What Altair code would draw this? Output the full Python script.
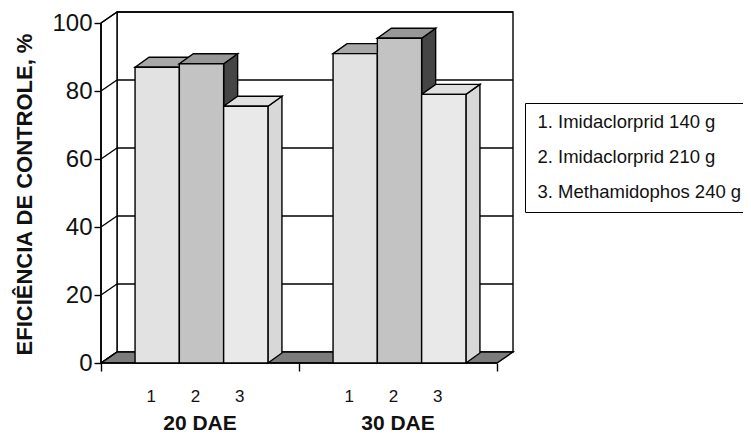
import altair as alt
import pandas as pd

# ---------------- data ----------------
groups = ["20 DAE", "30 DAE"]
series_num = ["1", "2", "3"]
treatments = ["1. Imidaclorprid 140 g", "2. Imidaclorprid 210 g", "3. Methamidophos 240 g"]
eff_20 = [87.0, 88.0, 75.5]
eff_30 = [91.0, 95.5, 79.0]
y_ticks = [0, 20, 40, 60, 80, 100]
group_ticks = [0, 1, 2]
y_title = "EFICIÊNCIA DE CONTROLE, %"

# ---------------- style / geometry constants ----------------
PX_X = 198.0      # pixels per category slot
PX_Y = 3.4        # pixels per percent
W_DX, W_DY = 16 / PX_X, 11 / PX_Y     # wall depth
B_DX, B_DY = 14 / PX_X, 10 / PX_Y     # bar depth
BAR_START, BAR_W = 0.172, 0.2237
XMAX = 2 + W_DX
YMAX = 354 / PX_Y
front_fill = ["#e2e2e2", "#c3c3c3", "#e9e9e9"]
top_fill = ["#a8a8a8", "#979797", "#e0e0e0"]
side_fill = ["#8c8c8c", "#454545", "#d8d8d8"]
FLOOR = "#7c7c7c"
FONT = "Liberation Sans"

# ---------------- derived tables ----------------
bars, sides, tops = [], [], []
for gi, vals in enumerate([eff_20, eff_30]):
    for i, v in enumerate(vals):
        x0 = gi + BAR_START + i * BAR_W
        x1 = x0 + BAR_W
        bid = f"{gi}-{i}"
        bars.append(dict(x0=x0, x1=x1, xc=(x0 + x1) / 2, v=v, treatment=treatments[i],
                         num=series_num[i], group=groups[gi]))
        sides += [dict(id=bid, px=x1, py=0, py2=v, fill=side_fill[i]),
                  dict(id=bid, px=x1 + B_DX, py=B_DY, py2=v + B_DY, fill=side_fill[i])]
        tops += [dict(id=bid, px=x0, py=v, py2=v, fill=top_fill[i]),
                 dict(id=bid, px=x0 + B_DX, py=v, py2=v + B_DY, fill=top_fill[i]),
                 dict(id=bid, px=x1, py=v, py2=v + B_DY, fill=top_fill[i]),
                 dict(id=bid, px=x1 + B_DX, py=v + B_DY, py2=v + B_DY, fill=top_fill[i])]
bars = pd.DataFrame(bars)
sides = pd.DataFrame(sides)
tops = pd.DataFrame(tops)
grp = pd.DataFrame(dict(group=groups, xc=[g + 0.5 for g in range(len(groups))]))

floor = pd.DataFrame(dict(px=[0, W_DX, 2, 2 + W_DX],
                          py=[0, 0, 0, W_DY], py2=[0, W_DY, W_DY, W_DY]))
left_wall = pd.DataFrame(dict(px=[0, W_DX], py=[0, W_DY], py2=[100, 100 + W_DY]))
back_wall = pd.DataFrame(dict(px=[W_DX], px2=[2 + W_DX], py=[W_DY], py2=[100 + W_DY]))
grid = pd.DataFrame(dict(v=y_ticks))
grid["px"], grid["px2"] = 0.0, W_DX
grid["py"] = grid["v"]
grid["py2"] = grid["v"] + W_DY
grid["bx"], grid["bx2"] = W_DX, 2 + W_DX
front_lines = pd.DataFrame(dict(px=[0, 0], px2=[0, 2], py=[0, 0], py2=[100, 0]))

xs = alt.Scale(domain=[0, XMAX], nice=False, zero=False)
ys = alt.Scale(domain=[0, YMAX], nice=False, zero=False)
x_axis = alt.Axis(values=group_ticks, labels=False, domain=False, grid=False,
                  tickSize=8, tickWidth=1.4, tickColor="black", title=None)
y_axis = alt.Axis(values=y_ticks, domain=False, grid=False, tickSize=7,
                  tickWidth=1.4, tickColor="black", labelFontSize=24,
                  labelColor="#111", labelPadding=2, labelFont=FONT,
                  title=y_title, titleFont=FONT, titleFontSize=22,
                  titleFontWeight="bold", titleColor="#111", titlePadding=15,
                  titleY=185)


def X(f):
    return alt.X(f, scale=xs, axis=x_axis)


def Y(f):
    return alt.Y(f, scale=ys, axis=y_axis)


wall = alt.Chart(back_wall).mark_rect(fill="white", stroke="black", strokeWidth=1.4).encode(
    x=X("px:Q"), x2="px2:Q", y=Y("py:Q"), y2="py2:Q")

lwall = alt.Chart(left_wall).mark_area(fill="white", stroke="black", strokeWidth=1.4).encode(
    x=X("px:Q"), y=Y("py:Q"), y2="py2:Q")

flr = alt.Chart(floor).mark_area(fill=FLOOR, stroke="black", strokeWidth=1.4).encode(
    x=X("px:Q"), y=Y("py:Q"), y2="py2:Q")

gridlines = alt.Chart(grid[grid.v > 0]).mark_rule(color="black", strokeWidth=1.4).encode(
    x=X("bx:Q"), x2="bx2:Q", y=Y("py2:Q"))

diag = alt.Chart(grid).mark_rule(color="black", strokeWidth=1.4).encode(
    x=X("px:Q"), x2="px2:Q", y=Y("py:Q"), y2="py2:Q")

front = alt.Chart(front_lines).mark_rule(color="black", strokeWidth=1.6).encode(
    x=X("px:Q"), x2="px2:Q", y=Y("py:Q"), y2="py2:Q")

side_l = alt.Chart(sides).mark_area(stroke="black", strokeWidth=1.4, strokeJoin="miter").encode(
    x=X("px:Q"), y=Y("py:Q"), y2="py2:Q",
    detail="id:N", color=alt.Color("fill:N", scale=None))

top_l = alt.Chart(tops).mark_area(stroke="black", strokeWidth=1.4, strokeJoin="miter").encode(
    x=X("px:Q"), y=Y("py:Q"), y2="py2:Q",
    detail="id:N", color=alt.Color("fill:N", scale=None))

front_l = alt.Chart(bars).mark_rect(stroke="black", strokeWidth=1.4).encode(
    x=X("x0:Q"), x2="x1:Q", y=Y("v:Q"), y2=alt.datum(0),
    color=alt.Color("treatment:N", scale=alt.Scale(domain=treatments, range=front_fill),
                    legend=alt.Legend(title=None, orient="none", legendX=424, legendY=94,
                                      symbolSize=1, symbolOpacity=0, symbolStrokeWidth=0,
                                      labelOffset={"expr": "-16"}, labelFont=FONT,
                                      labelFontSize=18.5,
                                      labelColor="#111", labelLimit=400, rowPadding=16,
                                      padding=10, strokeColor="black", fillColor="white")),
)

nums = alt.Chart(bars).transform_calculate(yz="0").mark_text(
    dy=34, dx=-6, fontSize=17, font=FONT, color="#111").encode(
    x=X("xc:Q"), y=Y("yz:Q"), text="num:N")

glabels = alt.Chart(grp).transform_calculate(yz="0").mark_text(
    dy=61, fontSize=21, fontWeight="bold", font=FONT, color="#111").encode(
    x=X("xc:Q"), y=Y("yz:Q"), text="group:N")

chart = alt.layer(wall, lwall, flr, gridlines, diag, front, side_l, top_l, front_l, nums, glabels).properties(
    width=412, height=354,
    autosize=alt.AutoSizeParams(type="none"),
    padding={"left": 93, "top": 1, "right": 230, "bottom": 73},
    background="white",
).configure_view(stroke=None)

chart.save("out.html", embed_options={"renderer": "svg", "actions": False})
